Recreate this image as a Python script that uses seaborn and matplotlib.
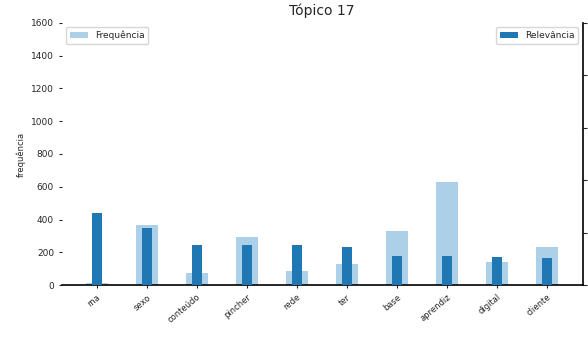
import matplotlib
matplotlib.use("Agg")
import matplotlib.pyplot as plt
import seaborn as sns
import pandas as pd
import numpy as np

palavras = ["rna", "sexo", "conteúdo", "pincher", "rede", "ter", "base", "aprendiz", "digital", "cliente"]
frequencia = [10, 366, 75, 295, 85, 130, 330, 630, 140, 230]
relevancia = [1.375, 1.08, 0.77, 0.77, 0.77, 0.73, 0.55, 0.55, 0.53, 0.52]
yticks_freq = [0, 200, 400, 600, 800, 1000, 1200, 1400, 1600]

sns.set_style("white")
plt.rcParams['font.family'] = ['DejaVu Sans']

fig = plt.figure(figsize=(5.88, 3.41), dpi=100)
ax = fig.add_axes([0.105, 0.164, 0.886, 0.769])
df = pd.DataFrame({"palavra": palavras, "frequencia": frequencia, "relevancia": relevancia})

sns.barplot(data=df, x="palavra", y="frequencia", color="#acd0e8", width=0.44,
            ax=ax, label="Frequência", saturation=1, linewidth=0)
ax.set_ylim(0, 1600)
ax.set_yticks(yticks_freq)
ax.set_xlim(-0.7, 9.72)
ax.set_ylabel("frequência", fontsize=6)
ax.set_xlabel("")
ax.tick_params(axis="y", labelsize=6.5, length=2, left=True)
ax.tick_params(axis="x", labelsize=6, length=2, bottom=True)
plt.setp(ax.get_xticklabels(), rotation=40, ha="right", rotation_mode="anchor")
for s in ["left", "top", "right"]:
    ax.spines[s].set_visible(False)
ax.spines["bottom"].set_color("black")
ax.spines["bottom"].set_linewidth(1.2)
ax.legend(loc="upper left", fontsize=6.5, frameon=True)
ax.set_title("Tópico 17", fontsize=10, pad=6)

ax2 = ax.twinx()
sns.barplot(data=df, x="palavra", y="relevancia", color="#1f78b4", width=0.2,
            ax=ax2, label="Relevância", saturation=1, linewidth=0)
ax2.set_ylim(0, 5.0)
ax2.set_xlim(-0.7, 9.72)
ax2.set_ylabel("")
ax2.set_yticks([0, 1, 2, 3, 4, 5])
ax2.tick_params(axis="y", length=3, right=True, labelright=False)
for s in ["left", "top", "bottom"]:
    ax2.spines[s].set_visible(False)
ax2.spines["right"].set_color("black")
ax2.spines["right"].set_linewidth(1.2)
ax2.legend(loc="upper right", fontsize=6.5, frameon=True)

fig.savefig("out.png", dpi=100)
